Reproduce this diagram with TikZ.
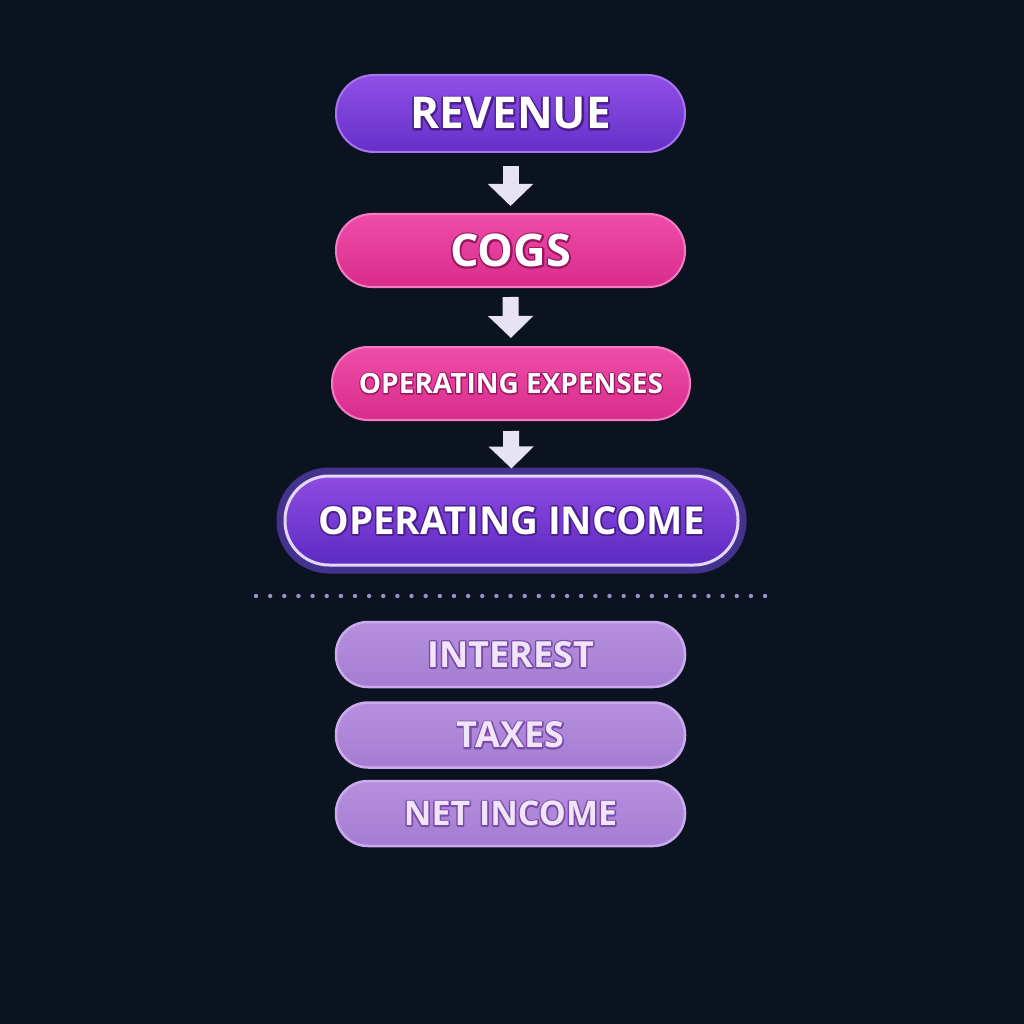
\documentclass[tikz,border=0pt]{standalone}
\usepackage{fontspec}
\setmainfont{Open Sans}
\usetikzlibrary{arrows.meta}
\definecolor{bg}{HTML}{0B1220}
\definecolor{revtop}{HTML}{9050E6}
\definecolor{revbot}{HTML}{6430C8}
\definecolor{revline}{HTML}{A874F0}
\definecolor{cogstop}{HTML}{EE4DA8}
\definecolor{cogsbot}{HTML}{D92C8B}
\definecolor{cogsline}{HTML}{F47CC2}
\definecolor{oitop}{HTML}{8E4CE2}
\definecolor{oibot}{HTML}{5C2AC2}
\definecolor{oihalo}{HTML}{44338E}
\definecolor{oiring}{HTML}{E4D6F8}
\definecolor{lowtop}{HTML}{B690DE}
\definecolor{lowbot}{HTML}{A47DD2}
\definecolor{lowline}{HTML}{CBABEE}
\definecolor{lowtext}{HTML}{F1E4FB}
\definecolor{arrowc}{HTML}{E8E3F3}
\definecolor{dotc}{HTML}{9890C6}
% outlined text: stroke colour (r g b), stroke width, text
\newcommand{\outl}[3]{\special{pdf:literal direct #1 RG #2 w 1 j 1 Tr}\rlap{#3}\special{pdf:literal direct 0 Tr}#3}
\tikzset{
  pill/.style={rounded corners=#1, inner sep=0pt, font=\bfseries, text=white},
  revbox/.style={pill=38pt, minimum width=349pt, minimum height=77pt,
    top color=revtop, bottom color=revbot, draw=revline, line width=2pt},
  cogsbox/.style={pill=36pt, minimum width=349pt, minimum height=73pt,
    top color=cogstop, bottom color=cogsbot, draw=cogsline, line width=2pt},
  oibox/.style={pill=44pt, minimum width=453pt, minimum height=89pt,
    top color=oitop, bottom color=oibot, draw=oiring, line width=3pt,
    preaction={draw=oihalo, line width=17pt}},
  lowbox/.style={pill=32pt, minimum width=349pt, minimum height=65pt,
    top color=lowtop, bottom color=lowbot, draw=lowline, line width=2.5pt,
    text=lowtext},
  flowarrow/.style={draw=arrowc, line width=16pt,
    -{Triangle[width=44pt,length=22pt]}, shorten <=#1},
}
\begin{document}
\begin{tikzpicture}[x=1pt,y=-1pt]
\fill[bg] (0,0) rectangle (1024,1024);
\useasboundingbox (0,0) rectangle (1024,1024);

\node[revbox] (rev) at (510.5,113.5)
  {\fontsize{44}{44}\selectfont\outl{0.29 0.118 0.55}{3.4}{REVENUE}};
\node[cogsbox] (cogs) at (510.5,250.5)
  {\fontsize{45}{45}\selectfont\outl{0.604 0.082 0.376}{3.4}{COGS}};
\node[cogsbox, minimum width=358pt] (opex) at (511,383.5)
  {\fontsize{28}{28}\selectfont\outl{0.604 0.082 0.376}{2.4}{OPERATING EXPENSES}};
\node[oibox] (oi) at (511.5,520.5)
  {\fontsize{38.5}{38.5}\selectfont\outl{0.29 0.118 0.55}{3.2}{OPERATING INCOME}};

\draw[flowarrow=13pt, shorten >=7pt] (rev.south) -- (cogs.north);
\draw[flowarrow=9pt, shorten >=8pt] (cogs.south) -- (opex.north);
\draw[flowarrow=10pt, shorten >=6pt] (opex.south) -- (oi.north);

\foreach \i in {0,...,36}
  \fill[dotc] (256+\i*14.14,596) circle (2.2pt);

\node[lowbox] (int) at (510.5,654.5)
  {\fontsize{36}{36}\selectfont\outl{0.478 0.298 0.659}{3}{INTEREST}};
\node[lowbox] (tax) at (510.5,735)
  {\fontsize{36}{36}\selectfont\outl{0.478 0.298 0.659}{3}{TAXES}};
\node[lowbox] (net) at (510.5,813.5)
  {\fontsize{34}{34}\selectfont\outl{0.478 0.298 0.659}{3}{NET INCOME}};
\end{tikzpicture}
\end{document}
